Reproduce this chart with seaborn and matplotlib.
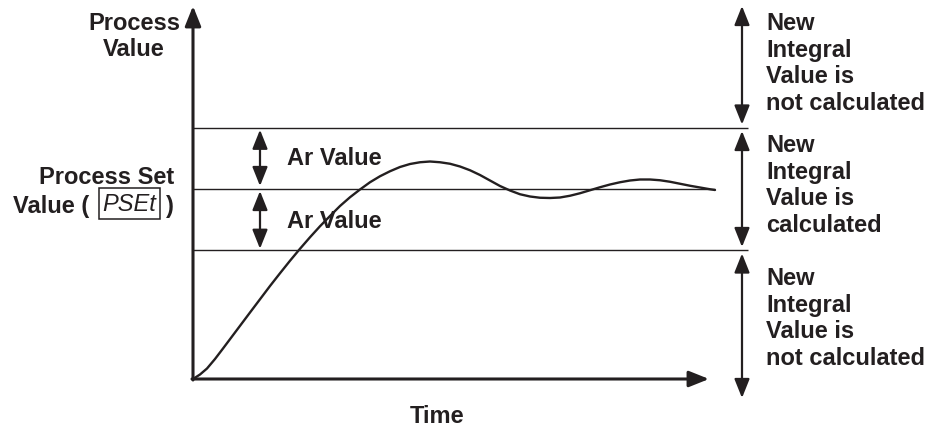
import pandas as pd
import seaborn as sns
import matplotlib.pyplot as plt

# process value response curve (time, value)
time = [0, 0.14, 0.28, 0.44, 0.6, 0.78, 0.96, 1.14, 1.34, 1.54, 1.74, 1.94,
        2.14, 2.34, 2.54, 2.74, 2.94, 3.14, 3.34, 3.54, 3.74, 3.94, 4.14,
        4.34, 4.54, 4.74, 4.94, 5.14, 5.34, 5.54, 5.74, 5.94, 6.14, 6.34,
        6.54, 6.74, 6.94, 7.14, 7.34, 7.54, 7.74, 7.94, 8.14, 8.34, 8.54,
        8.74, 8.94, 9.14, 9.34, 9.54, 9.74, 9.94, 10.14, 10.34, 10.44]
value = [0, 1.8, 4.2, 8.0, 12.2, 17.0, 21.8, 26.6, 31.9, 37.2, 42.3, 47.3,
         52.1, 56.7, 61.1, 65.2, 69.2, 72.7, 75.8, 78.7, 81.1, 83.1, 84.8,
         86.0, 86.7, 87.0, 86.7, 86.1, 85.0, 83.5, 81.6, 79.4, 77.2, 75.4,
         73.9, 73.0, 72.5, 72.4, 72.6, 73.3, 74.3, 75.5, 76.7, 77.8, 78.7,
         79.4, 79.8, 79.8, 79.5, 78.9, 78.1, 77.3, 76.6, 75.9, 75.6]

set_value = 76
ar_value = 24.5
set_end = 10.44
band_end = 11.1
t_max = 10.28
pv_max = 149.2

labels_right = [
    ['New', 'Integral', 'Value is', 'not calculated'],
    ['New', 'Integral', 'Value is', 'calculated'],
    ['New', 'Integral', 'Value is', 'not calculated'],
]

ink = '#231f20'

sns.set_theme(style='white')
plt.rcParams['font.family'] = ['Liberation Sans', 'DejaVu Sans']

fig = plt.figure(figsize=(9.31, 4.27), dpi=100)
ax = fig.add_axes([0, 0, 1, 1])
ax.set_xlim(-3.86, 14.76)
ax.set_ylim(-18.8, 152)


# pixel helpers for placing the labels
def px(x):
    return (x - 193) / 50


def py(y):
    return (380 - y) / 2.5


upper = set_value + ar_value
lower = set_value - ar_value

ax.hlines([upper, lower], 0, band_end, color=ink, lw=1.0)
ax.hlines(set_value, 0, set_end, color=ink, lw=1.0)

df = pd.DataFrame({'Time': time, 'Process Value': value})
sns.lineplot(data=df, x='Time', y='Process Value', sort=False, estimator=None,
             color=ink, lw=1.7, ax=ax)
ax.axis('off')

# axes with arrow heads
axis_arrow = dict(arrowstyle='-|>,head_length=0.55,head_width=0.22',
                  mutation_scale=22, lw=2.2, color=ink, shrinkA=0, shrinkB=0)
ax.annotate('', xy=(0, pv_max), xytext=(0, -0.4), arrowprops=axis_arrow)
ax.annotate('', xy=(t_max + 0.04, 0), xytext=(-0.02, 0), arrowprops=axis_arrow)

dbl = dict(arrowstyle='<|-|>,head_length=0.55,head_width=0.22',
           mutation_scale=21, lw=1.6, color=ink, shrinkA=0, shrinkB=0)

# Ar arrows on the left
x_ar = px(260)
ax.annotate('', xy=(x_ar, upper - 0.8), xytext=(x_ar, set_value + 1.2), arrowprops=dbl)
ax.annotate('', xy=(x_ar, set_value - 0.8), xytext=(x_ar, lower + 0.6), arrowprops=dbl)

# zone arrows on the right
x_z = px(742)
gap = 1.3
ax.annotate('', xy=(x_z, pv_max), xytext=(x_z, upper + gap), arrowprops=dbl)
ax.annotate('', xy=(x_z, upper - gap), xytext=(x_z, lower + gap), arrowprops=dbl)
ax.annotate('', xy=(x_z, lower - gap), xytext=(x_z, py(399)), arrowprops=dbl)

fs = 17
txt = dict(fontsize=fs, fontweight='bold', color=ink, va='baseline')

ax.text(px(134), py(30), 'Process', ha='center', **txt)
ax.text(px(134), py(56), 'Value', ha='center', **txt)

ax.text(px(174), py(184), 'Process Set', ha='right', **txt)
ax.text(px(89), py(213), 'Value (', ha='right', **txt)
ax.text(px(129.5), py(211), 'PSEt', ha='center', fontsize=17, fontstyle='italic',
        color=ink, va='baseline',
        bbox=dict(boxstyle='square,pad=0.15', fc='white', ec=ink, lw=1.1))
ax.text(px(174), py(213), ')', ha='right', **txt)

ax.text(px(287), py(165), 'Ar Value', ha='left', **txt)
ax.text(px(287), py(228), 'Ar Value', ha='left', **txt)

ax.text(px(437), py(423), 'Time', ha='center', **txt)

for first, lines in zip([30, 152, 285], labels_right):
    for i, line in enumerate(lines):
        ax.text(px(766), py(first + i * 26.6), line, ha='left', **txt)

fig.savefig('out.png', dpi=100)
